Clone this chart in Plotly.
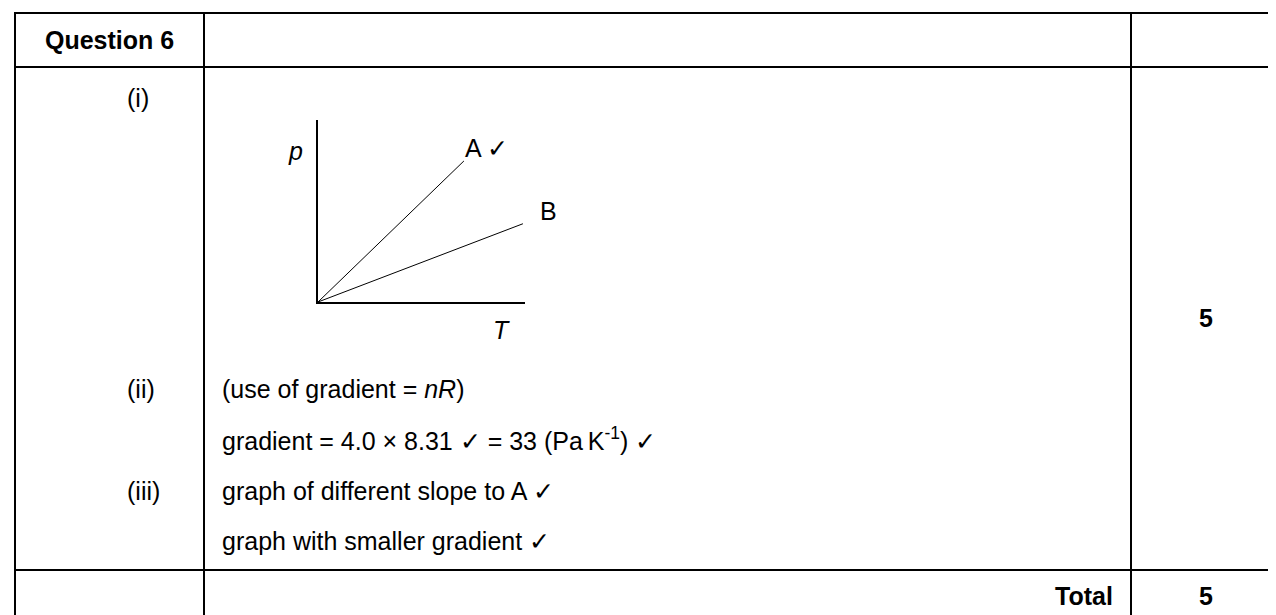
import plotly.graph_objects as go

W, H = 1276, 615

# --- data ---
header_label = "Question 6"
part_labels = ["(i)", "(ii)", "(iii)"]
answer_lines = [
    "(use of gradient = <i>nR</i>)",
    "gradient = 4.0 \u00d7 8.31 \u2713 = 33 (Pa\u2009K<sup>-1</sup>) \u2713",
    "graph of different slope to A \u2713",
    "graph with smaller gradient \u2713",
]
part_marks = "5"
total_label = "Total"
total_marks = "5"

# sketch graph p against T, both lines start at the origin
line_names = ["A \u2713", "B"]
line_T = [[0, 0.705], [0, 0.99]]
line_p = [[0, 0.775], [0, 0.43]]

# --- layout positions (pixels in the 1276x615 page) ---
col_edges = [7, 196, 1123, 1273]
row_edges = [5, 59, 562, 614]
part_y = [90, 381, 483]
answer_y = [381, 431, 483, 533]
label_x = 117
answer_x = 212

FONT = "Liberation Sans, Arial, sans-serif"
SIZE = 25


def px(x):
    return x / W


def py(y):
    return 1 - y / H


def note(text, x, y, xanchor="left", bold=False, italic=False):
    if bold:
        text = f"<b>{text}</b>"
    if italic:
        text = f"<i>{text}</i>"
    return dict(
        text=text, x=px(x), y=py(y), xref="paper", yref="paper",
        xanchor=xanchor, yanchor="middle", showarrow=False,
        font=dict(family=FONT, size=SIZE, color="black"),
    )


fig = go.Figure()

for name, t, p in zip(line_names, line_T, line_p):
    fig.add_trace(go.Scatter(
        x=t, y=p, mode="lines", name=name,
        line=dict(color="black", width=1), hoverinfo="skip",
    ))

# table grid
shapes = []
for x in col_edges:
    shapes.append(dict(type="line", xref="paper", yref="paper",
                       x0=px(x), x1=px(x), y0=py(row_edges[0]), y1=py(row_edges[-1]),
                       line=dict(color="black", width=2)))
for y in row_edges:
    shapes.append(dict(type="line", xref="paper", yref="paper",
                       x0=px(col_edges[0] - 1), x1=px(col_edges[-1] + 1), y0=py(y), y1=py(y),
                       line=dict(color="black", width=2)))

annotations = [note(header_label, 101.5, 32, xanchor="center", bold=True)]
for lab, y in zip(part_labels, part_y):
    annotations.append(note(lab, label_x, y))
for txt, y in zip(answer_lines, answer_y):
    annotations.append(note(txt, answer_x, y))
annotations += [
    note("p", 287, 143, xanchor="center", italic=True),
    note("T", 493, 322, xanchor="center", italic=True),
    note(line_names[0], 455, 140),
    note(line_names[1], 540, 203, xanchor="center"),
    note(part_marks, 1198, 310, xanchor="center", bold=True),
    note(total_label, 1107, 588, xanchor="right", bold=True),
    note(total_marks, 1198, 588, xanchor="center", bold=True),
]

fig.update_layout(
    width=W, height=H,
    margin=dict(l=0, r=0, t=0, b=0),
    paper_bgcolor="white", plot_bgcolor="white",
    showlegend=False,
    shapes=shapes,
    annotations=annotations,
)

axis_common = dict(range=[0, 1], showline=True, linecolor="black", linewidth=2,
                   showgrid=False, zeroline=False, showticklabels=False, ticks="",
                   fixedrange=True)
fig.update_xaxes(domain=[px(310), px(517)], **axis_common)
fig.update_yaxes(domain=[py(294), py(112)], **axis_common)

fig.write_html("out.html", config={"displayModeBar": False})
